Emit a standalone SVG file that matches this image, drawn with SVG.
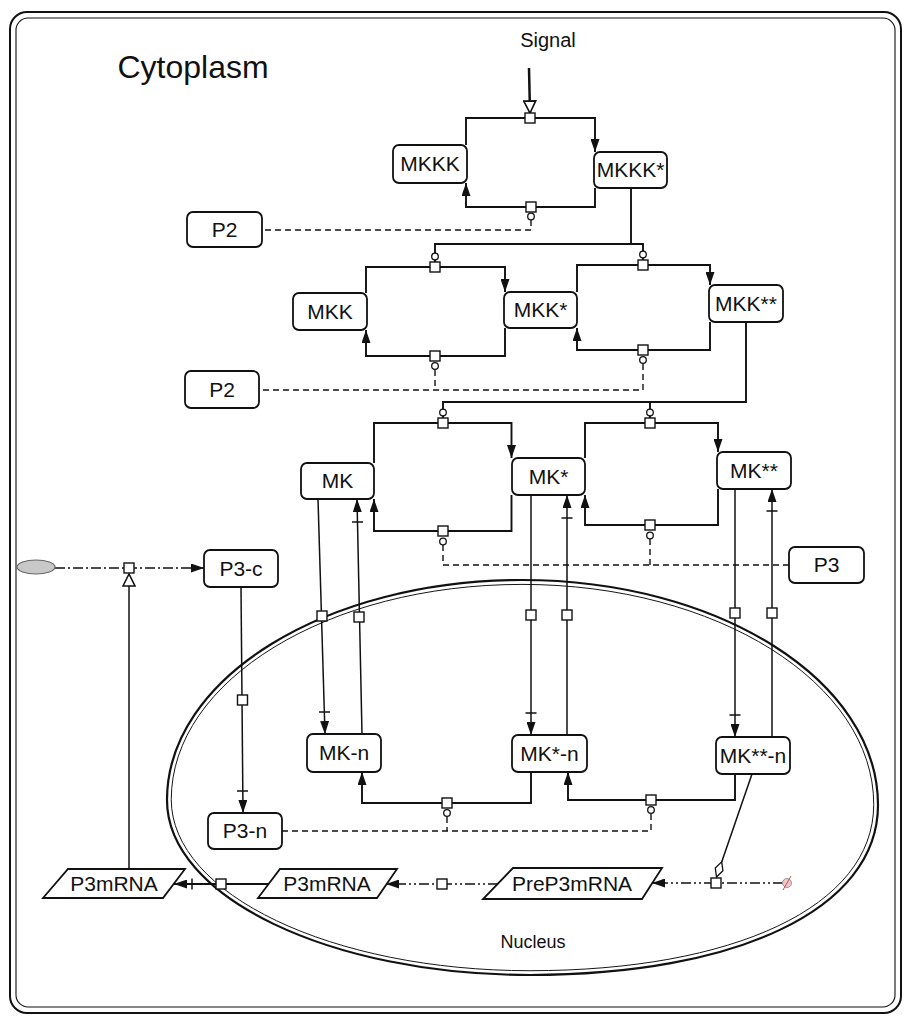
<svg xmlns="http://www.w3.org/2000/svg" width="904" height="1016" viewBox="0 0 904 1016">
<defs>
<style>
.box{fill:#fff;stroke:#111;stroke-width:1.8}
.lbl{font-family:"Liberation Sans",Arial,sans-serif;font-size:21px;fill:#111;text-anchor:middle}
.c{fill:none;stroke:#111;stroke-width:1.9}
.t{fill:none;stroke:#111;stroke-width:1.5}
.d{fill:none;stroke:#111;stroke-width:1.4;stroke-dasharray:6 4}
.dd{fill:none;stroke:#111;stroke-width:1.4;stroke-dasharray:10 3 2 3}
.ddd{fill:none;stroke:#111;stroke-width:1.4;stroke-dasharray:10 3 2 3 2 3}
.sq{fill:#fff;stroke:#111;stroke-width:1.4}
.ci{fill:#fff;stroke:#111;stroke-width:1.3}
.bar{stroke:#111;stroke-width:1.5}
.mem{fill:none;stroke:#111}
</style>
<marker id="arr" viewBox="0 0 13 9" refX="13" refY="4.5" markerWidth="13" markerHeight="9" markerUnits="userSpaceOnUse" orient="auto">
<path d="M0,0 L13,4.5 L0,9 z" fill="#111"/>
</marker>
<marker id="hol" viewBox="0 0 14 14" refX="13" refY="7" markerWidth="14" markerHeight="14" markerUnits="userSpaceOnUse" orient="auto">
<path d="M1,1 L13,7 L1,13 z" fill="#fff" stroke="#111" stroke-width="1.6"/>
</marker>
</defs>
<rect width="904" height="1016" fill="#fff"/>

<g id="cytoplasm">
<rect x="10" y="12" width="891" height="1001" rx="17" class="mem" stroke-width="2"/>
<rect x="16" y="18" width="879" height="989" rx="12" class="mem" stroke-width="1.1"/>
<text x="193" y="78" font-family="Liberation Sans,Arial,sans-serif" font-size="32" fill="#111" text-anchor="middle">Cytoplasm</text>
</g>

<g id="nucleus">
<path class="mem" stroke-width="2.2" d="M167,800 C167,678 326,580 522,580 C719,580 878,681 878,805 C878,910 735,975 530,975 C330,975 167,897 167,800 Z"/>
<path class="mem" stroke-width="1" transform="translate(522 780) scale(0.988 0.978) translate(-522 -780)" d="M167,800 C167,678 326,580 522,580 C719,580 878,681 878,805 C878,910 735,975 530,975 C330,975 167,897 167,800 Z"/>
<text x="533" y="948" font-family="Liberation Sans,Arial,sans-serif" font-size="18" fill="#111" text-anchor="middle">Nucleus</text>
</g>

<g id="signal">
<text x="548" y="47" font-family="Liberation Sans,Arial,sans-serif" font-size="20" fill="#111" text-anchor="middle">Signal</text>
</g>

<g id="connectors">
<line x1="529" y1="68" x2="530" y2="113" stroke="#111" stroke-width="2.5" marker-end="url(#hol)"/>
<path class="c" d="M466,145 V118 H595 V152" marker-end="url(#arr)"/>
<path class="c" d="M595,188 V207 H466 V183" marker-end="url(#arr)"/>
<path class="d" d="M531,220 V230 H262"/>
<path class="c" d="M631,188 V244"/>
<path class="c" d="M435,262 V244 H643 V260"/>
<path class="c" d="M366,293 V267 H505 V292" marker-end="url(#arr)"/>
<path class="c" d="M505,328 V356 H366 V330" marker-end="url(#arr)"/>
<path class="c" d="M577,292 V265 H710 V285" marker-end="url(#arr)"/>
<path class="c" d="M710,322 V350 H577 V328" marker-end="url(#arr)"/>
<path class="d" d="M435,370 V390"/>
<path class="d" d="M643,364 V390 H259"/>
<path class="c" d="M746,322 V402 H443 V418"/>
<path class="c" d="M650,402 V418"/>
<path class="c" d="M374,463 V423 H511.5 V458" marker-end="url(#arr)"/>
<path class="c" d="M511.5,495 V531 H374 V499" marker-end="url(#arr)"/>
<path class="c" d="M585,458 V423 H718 V452" marker-end="url(#arr)"/>
<path class="c" d="M718,489 V525 H585 V495" marker-end="url(#arr)"/>
<path class="d" d="M443,545 V565 H789"/>
<path class="d" d="M650,539 V565"/>
<path class="t" d="M318,499 L325,734" marker-end="url(#arr)"/>
<line class="bar" x1="319" y1="712" x2="330" y2="712"/>
<path class="t" d="M362,734 L357,499" marker-end="url(#arr)"/>
<line class="bar" x1="352" y1="522" x2="363" y2="522"/>
<path class="t" d="M531,495 V735" marker-end="url(#arr)"/>
<line class="bar" x1="525.5" y1="713" x2="536.5" y2="713"/>
<path class="t" d="M567,735 V495" marker-end="url(#arr)"/>
<line class="bar" x1="561.5" y1="518" x2="572.5" y2="518"/>
<path class="t" d="M735,489 V737" marker-end="url(#arr)"/>
<line class="bar" x1="729.5" y1="715" x2="740.5" y2="715"/>
<path class="t" d="M772,737 V489" marker-end="url(#arr)"/>
<line class="bar" x1="766.5" y1="511" x2="777.5" y2="511"/>
<path class="c" d="M531,772 V803 H362 V772" marker-end="url(#arr)"/>
<path class="c" d="M735,774 V800 H568 V772" marker-end="url(#arr)"/>
<path class="d" d="M447,817 V831"/>
<path class="d" d="M651,814 V831 H282"/>
<path class="dd" d="M55,568 H204" marker-end="url(#arr)"/>
<path class="t" d="M129,869 V574" marker-end="url(#hol)"/>
<path class="t" d="M241,587 L243,813" marker-end="url(#arr)"/>
<line class="bar" x1="237" y1="791" x2="248" y2="791"/>
<path class="c" d="M269,884 H174" marker-end="url(#arr)"/>
<line class="bar" x1="192" y1="878.5" x2="192" y2="889.5"/>
<path class="ddd" d="M498,884 H386" marker-end="url(#arr)"/>
<path class="ddd" d="M783,883 H652" marker-end="url(#arr)"/>
<path class="t" d="M752,774 L721.7,861.9"/>
<path d="M721.7,861.9 L722.9,870.7 L716.5,877 L715.3,868.1 Z" fill="#fff" stroke="#111" stroke-width="1.3"/>
<rect class="sq" x="525" y="113" width="10" height="10"/>
<rect class="sq" x="526" y="202" width="10" height="10"/>
<circle class="ci" cx="531" cy="216.5" r="3.3"/>
<rect class="sq" x="430" y="262" width="10" height="10"/>
<circle class="ci" cx="435" cy="256.5" r="3.3"/>
<rect class="sq" x="430" y="351" width="10" height="10"/>
<circle class="ci" cx="435" cy="366" r="3.3"/>
<rect class="sq" x="638" y="260" width="10" height="10"/>
<circle class="ci" cx="643" cy="254.5" r="3.3"/>
<rect class="sq" x="638" y="345" width="10" height="10"/>
<circle class="ci" cx="643" cy="360" r="3.3"/>
<rect class="sq" x="438" y="418" width="10" height="10"/>
<circle class="ci" cx="443" cy="412.5" r="3.3"/>
<rect class="sq" x="645" y="418" width="10" height="10"/>
<circle class="ci" cx="650" cy="412.5" r="3.3"/>
<rect class="sq" x="438" y="526" width="10" height="10"/>
<circle class="ci" cx="443" cy="541.5" r="3.3"/>
<rect class="sq" x="645" y="520" width="10" height="10"/>
<circle class="ci" cx="650" cy="535.5" r="3.3"/>
<rect class="sq" x="317" y="611" width="10" height="10"/>
<rect class="sq" x="354" y="612" width="10" height="10"/>
<rect class="sq" x="526" y="610" width="10" height="10"/>
<rect class="sq" x="562" y="610" width="10" height="10"/>
<rect class="sq" x="730" y="608" width="10" height="10"/>
<rect class="sq" x="767" y="608" width="10" height="10"/>
<rect class="sq" x="442" y="798" width="10" height="10"/>
<circle class="ci" cx="447" cy="813" r="3.3"/>
<rect class="sq" x="646" y="795" width="10" height="10"/>
<circle class="ci" cx="651" cy="810" r="3.3"/>
<rect class="sq" x="124" y="563" width="10" height="10"/>
<rect class="sq" x="237.5" y="695" width="10" height="10"/>
<rect class="sq" x="216" y="879" width="10" height="10"/>
<rect class="sq" x="437" y="879" width="10" height="10"/>
<rect class="sq" x="711" y="878" width="10" height="10"/>
</g>

<g id="source">
<ellipse cx="36" cy="567" rx="19" ry="7" fill="#c8c8c8" stroke="#666" stroke-width="1.2"/>
</g>
<g id="sink">
<circle cx="787" cy="883" r="4.5" fill="#f2c6c6" stroke="#999" stroke-width="1"/>
<line x1="783" y1="890" x2="791" y2="876" stroke="#b55" stroke-width="1"/>
</g>

<g id="MKKK"><rect class="box" x="393" y="145" width="74" height="38" rx="6"/><text class="lbl" x="430" y="171">MKKK</text></g>
<g id="MKKKp"><rect class="box" x="594" y="152" width="73" height="36" rx="6"/><text class="lbl" x="630.5" y="177">MKKK*</text></g>
<g id="P2a"><rect class="box" x="187" y="212" width="75" height="35" rx="6"/><text class="lbl" x="224.5" y="237">P2</text></g>
<g id="MKK"><rect class="box" x="293" y="293" width="74" height="37" rx="6"/><text class="lbl" x="330" y="319">MKK</text></g>
<g id="MKKp"><rect class="box" x="504" y="292" width="73" height="36" rx="6"/><text class="lbl" x="540.5" y="317">MKK*</text></g>
<g id="MKKpp"><rect class="box" x="709" y="285" width="74" height="37" rx="6"/><text class="lbl" x="746" y="311">MKK**</text></g>
<g id="P2b"><rect class="box" x="185" y="371" width="74" height="37" rx="6"/><text class="lbl" x="222" y="397">P2</text></g>
<g id="MK"><rect class="box" x="301" y="463" width="73" height="36" rx="6"/><text class="lbl" x="337.5" y="488">MK</text></g>
<g id="MKp"><rect class="box" x="512" y="458" width="73" height="37" rx="6"/><text class="lbl" x="548.5" y="484">MK*</text></g>
<g id="MKpp"><rect class="box" x="717" y="452" width="74" height="37" rx="6"/><text class="lbl" x="754" y="478">MK**</text></g>
<g id="P3"><rect class="box" x="789" y="547" width="75" height="36" rx="6"/><text class="lbl" x="826.5" y="572">P3</text></g>
<g id="P3c"><rect class="box" x="204" y="550" width="74" height="37" rx="6"/><text class="lbl" x="241" y="576">P3-c</text></g>
<g id="MKn"><rect class="box" x="307" y="734" width="74" height="38" rx="6"/><text class="lbl" x="344" y="760">MK-n</text></g>
<g id="MKpn"><rect class="box" x="512" y="735" width="75" height="37" rx="6"/><text class="lbl" x="549.5" y="761">MK*-n</text></g>
<g id="MKppn"><rect class="box" x="716" y="737" width="74" height="37" rx="6"/><text class="lbl" x="753" y="763">MK**-n</text></g>
<g id="P3n"><rect class="box" x="208" y="813" width="74" height="36" rx="6"/><text class="lbl" x="245" y="838">P3-n</text></g>
<g id="P3mRNAc"><path class="box" d="M68,869 H185 L163,898 H43 Z"/><text class="lbl" x="114" y="891" font-size="20">P3mRNA</text></g>
<g id="P3mRNAn"><path class="box" d="M280,869 H397 L377,898 H258 Z"/><text class="lbl" x="327" y="891" font-size="20">P3mRNA</text></g>
<g id="PreP3mRNA"><path class="box" d="M513,868 H662 L642,899 H483 Z"/><text class="lbl" x="572" y="891" font-size="20">PreP3mRNA</text></g>
</svg>
